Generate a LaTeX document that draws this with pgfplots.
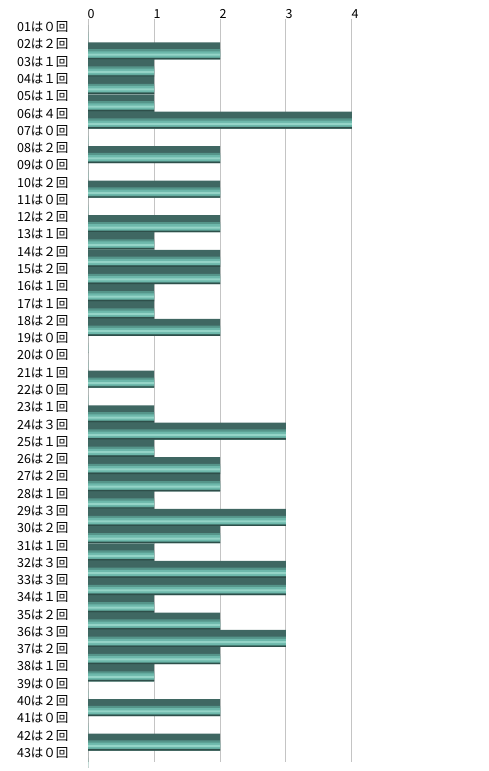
\documentclass[border=0pt]{standalone}
\usepackage{fontspec}
\usepackage{pgfplots}
\usepackage{pgfplotstable}
\pgfplotsset{compat=1.18}
\newfontfamily\jp{Noto Sans CJK JP}
\definecolor{barDark}{HTML}{3F6762}
\definecolor{barMid}{HTML}{55958A}
\definecolor{barLight}{HTML}{6DB8AB}
\definecolor{barHi}{HTML}{94D4C7}
\definecolor{barEdge}{HTML}{2E4F4A}
\definecolor{gridc}{HTML}{C4C4C4}
\pgfplotstableread{
i v
1 0
2 2
3 1
4 1
5 1
6 4
7 0
8 2
9 0
10 2
11 0
12 2
13 1
14 2
15 2
16 1
17 1
18 2
19 0
20 0
21 1
22 0
23 1
24 3
25 1
26 2
27 2
28 1
29 3
30 2
31 1
32 3
33 3
34 1
35 2
36 3
37 2
38 1
39 0
40 2
41 0
42 2
43 0
}\counts
\begin{document}
\begin{tikzpicture}
\useasboundingbox (0,0) rectangle (489pt,771pt);
\begin{axis}[
  at={(88pt,9.5pt)}, anchor=south west,
  scale only axis, width=396pt, height=743pt,
  xmin=0, xmax=6, ymin=0.5, ymax=43.5,
  y dir=reverse,
  xtick={0,1,2,3,4},
  xticklabel pos=top,
  xticklabel style={font=\jp\fontsize{12.5}{14}\selectfont, yshift=-4pt, xshift=3pt},
  /pgf/number format/assume math mode=true,
  ytick={1,...,43},
  yticklabels={01は０回,02は２回,03は１回,04は１回,05は１回,06は４回,07は０回,08は２回,09は０回,10は２回,11は０回,12は２回,13は１回,14は２回,15は２回,16は１回,17は１回,18は２回,19は０回,20は０回,21は１回,22は０回,23は１回,24は３回,25は１回,26は２回,27は２回,28は１回,29は３回,30は２回,31は１回,32は３回,33は３回,34は１回,35は２回,36は３回,37は２回,38は１回,39は０回,40は２回,41は０回,42は２回,43は０回},
  yticklabel style={font=\jp\fontsize{12.5}{14}\selectfont, anchor=east, xshift=-16pt},
  axis line style={draw=none},
  major tick style={draw=none},
  xmajorgrids, grid style={gridc, line width=1pt},
  clip=false,
  every axis plot/.append style={xbar, draw=none},
]
\addplot[fill=barDark, bar width=17pt, bar shift=-6.5pt] table[x=v,y=i]{\counts};
\addplot[fill=barMid, bar width=10pt, bar shift=-9.8pt] table[x=v,y=i]{\counts};
\addplot[fill=barLight, bar width=6pt, bar shift=-10pt] table[x=v,y=i]{\counts};
\addplot[fill=barHi, bar width=2pt, bar shift=-10.3pt] table[x=v,y=i]{\counts};
\addplot[fill=barEdge, bar width=1.4pt, bar shift=-14.3pt] table[x=v,y=i]{\counts};
\end{axis}
\end{tikzpicture}
\end{document}
